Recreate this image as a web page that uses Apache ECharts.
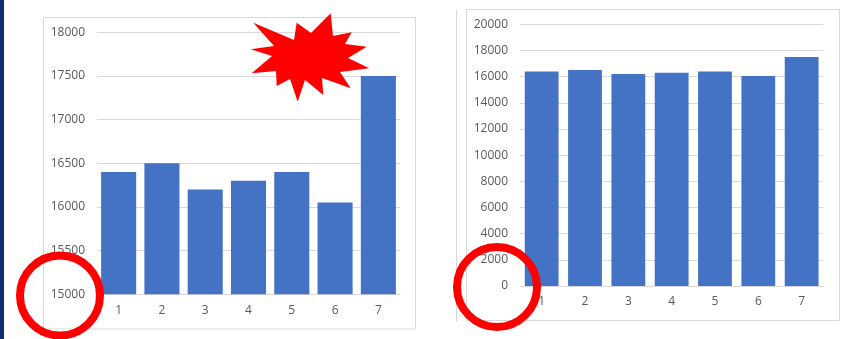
<!DOCTYPE html>
<html>
<head>
<meta charset="utf-8">
<script src="https://cdn.jsdelivr.net/npm/echarts@6/dist/echarts.min.js"></script>
<style>
html,body{margin:0;padding:0;background:#fff;}
#c{width:846px;height:339px;}
</style>
</head>
<body>
<div id="c"></div>
<script>
const categories = ['1','2','3','4','5','6','7'];
const values = [16400, 16500, 16200, 16300, 16400, 16050, 17500];
const leftAxis = {min: 15000, max: 18000, interval: 500};
const rightAxis = {min: 0, max: 20000, interval: 2000};

const chart = echarts.init(document.getElementById('c'));
const labelColor = '#595959';
const gridColor = '#d9d9d9';
const font = 'Open Sans';

function xAxis(idx){
  return {
    type: 'category', gridIndex: idx, data: categories,
    axisTick: {show: false},
    axisLine: {lineStyle: {color: gridColor}},
    axisLabel: {color: labelColor, fontFamily: font, fontSize: 12, margin: 10}
  };
}
function yAxis(idx, a){
  return {
    type: 'value', gridIndex: idx, min: a.min, max: a.max, interval: a.interval,
    axisLine: {show: false}, axisTick: {show: false},
    splitLine: {lineStyle: {color: gridColor}},
    axisLabel: {color: labelColor, fontFamily: font, fontSize: 12, margin: 12,
                formatter: v => String(v)}
  };
}

// starburst polygon (decoration)
const star = [
  [250.7,49.3],[272,56],[251.7,73.3],[276,71],[276.7,86],[290,79],[297.7,101.7],[305,80],
  [323.3,95],[322,78],[350.7,88.3],[340,72],[369.3,68.3],[348,58],[366.7,46.7],[345,44],
  [351.7,32.3],[333,36],[330.7,13.3],[311,33],[296.7,22.7],[294,40],[253.3,22.7],[274,46]
];

chart.setOption({
  animation: false,
  backgroundColor: '#ffffff',
  grid: [
    {left: 97, right: 446, top: 32.3, bottom: 44.7},
    {left: 520, right: 22.7, top: 24.3, bottom: 53}
  ],
  xAxis: [xAxis(0), xAxis(1)],
  yAxis: [yAxis(0, leftAxis), yAxis(1, rightAxis)],
  series: [
    {type: 'bar', xAxisIndex: 0, yAxisIndex: 0, data: values, barCategoryGap: '19%',
     itemStyle: {color: '#4472C4'}},
    {type: 'bar', xAxisIndex: 1, yAxisIndex: 1, data: values, barCategoryGap: '22%',
     itemStyle: {color: '#4472C4'}}
  ],
  graphic: [
    {type: 'rect', shape: {x: 0, y: 0, width: 4, height: 339}, style: {fill: '#0e2d6b'}, z: 10},
    {type: 'rect', shape: {x: 43.5, y: 17.5, width: 372, height: 311.5}, style: {fill: 'none', stroke: gridColor, lineWidth: 1}, z: -1},
    {type: 'rect', shape: {x: 466.5, y: 9.5, width: 373, height: 311}, style: {fill: 'none', stroke: gridColor, lineWidth: 1}, z: -1},
    {type: 'line', shape: {x1: 456.5, y1: 10, x2: 456.5, y2: 322}, style: {stroke: gridColor, lineWidth: 1}, z: -1},
    {type: 'polygon', shape: {points: star}, style: {fill: '#ff0000'}, z: 20},
    {type: 'circle', shape: {cx: 60, cy: 295.5, r: 40}, style: {fill: 'none', stroke: '#ff0000', lineWidth: 8}, z: 20},
    {type: 'circle', shape: {cx: 497, cy: 287, r: 40}, style: {fill: 'none', stroke: '#ff0000', lineWidth: 8}, z: 20}
  ]
});
</script>
</body>
</html>
